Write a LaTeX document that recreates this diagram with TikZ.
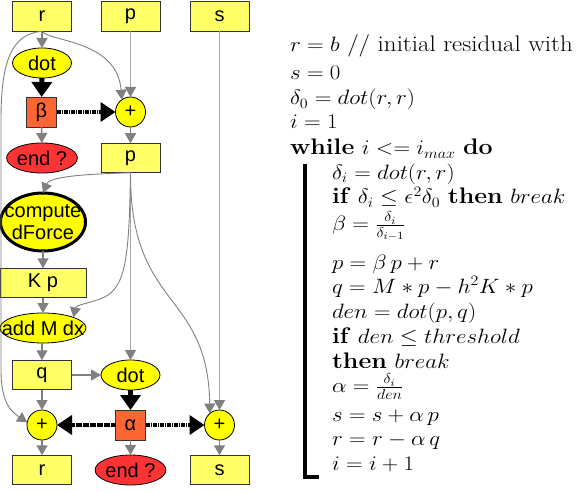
\documentclass[tikz,border=0pt]{standalone}
\usepackage{graphicx}
\usepackage{fontspec}
\newfontfamily\diagfont{Liberation Sans}
\usetikzlibrary{arrows.meta,shapes.geometric}
\definecolor{boxy}{RGB}{255,255,102}
\definecolor{elly}{RGB}{255,255,0}
\definecolor{orng}{RGB}{255,102,51}
\definecolor{redd}{RGB}{255,51,51}
\definecolor{linegray}{RGB}{128,128,128}
\definecolor{longgray}{RGB}{165,165,165}
\newcommand{\algline}[1]{\scalebox{1.11}[1]{#1}}
\begin{document}
\begin{tikzpicture}[x=1pt,y=-1pt,
  every node/.style={inner sep=0pt, outer sep=0pt, font=\diagfont\fontsize{20}{22}\selectfont},
  box/.style={rectangle, draw=black!80, line width=0.8pt, fill=boxy, minimum width=59pt, minimum height=29.5pt},
  ell/.style={ellipse, draw=black, line width=0.8pt, fill=elly, minimum width=59pt, minimum height=30pt},
  endell/.style={ell, fill=redd},
  sq/.style={rectangle, draw=black!80, line width=0.8pt, fill=orng, minimum width=30pt, minimum height=30pt},
  plus/.style={circle, draw=black, line width=0.8pt, fill=elly, minimum size=30pt},
  garrow/.style={draw=linegray, line width=1.5pt, -{Triangle[length=10pt,width=11pt]}},
  gcurve/.style={draw=linegray, line width=0.9pt, -{Triangle[length=10pt,width=11pt]}},
  glong/.style={draw=longgray, line width=1.5pt, -{Triangle[length=10pt,width=11pt,color=linegray]}},
  thickarr/.style={draw=black, line width=5pt, -{Triangle[length=15pt,width=20pt]}},
  hatch/.style={draw=black, line width=4.5pt, dash pattern=on 1.3pt off 0.45pt, -{Triangle[length=15pt,width=19pt]}},
  algo/.style={anchor=base west, font=\fontsize{22.5}{25}\selectfont},
]
\useasboundingbox (0,0) rectangle (581,492);
% top row
\node[box] (rT) at (42,16.5) {r};
\node[box] (pT) at (130.5,16.5) {p};
\node[box] (sT) at (219.5,16.5) {s};
\node[ell] (dot1) at (42,63) {dot};
\node[sq] (beta) at (41.5,112) {β};
\node[plus] (plus1) at (130.5,112) {+};
\node[endell] (end1) at (42,158) {end ?};
\node[box] (pM) at (130.5,158) {p};
\node[ell, line width=3pt, minimum width=85pt, minimum height=58pt,
      label={[align=center]center:compute\\dForce}] (comp) at (43,222) {};
\node[box, minimum width=86pt] (Kp) at (43,283) {K p};
\node[ell, minimum width=86pt, minimum height=30pt, label={center:add M dx}] (addM) at (43,328) {};
\node[box] (q) at (42,375) {q};
\node[ell] (dot2) at (130.5,375) {dot};
\node[plus] (plus2) at (42,425) {+};
\node[sq] (alpha) at (130.5,425) {α};
\node[plus] (plus3) at (219.5,425) {+};
\node[box] (rB) at (42,470) {r};
\node[endell] (end2) at (130.5,470) {end ?};
\node[box] (sB) at (219.5,470) {s};
% connectors
\draw[glong] (pT) -- (plus1);
\draw[glong] (sT) -- (plus3);
\draw[glong] (pM) -- (dot2);
\draw[garrow] (rT) -- (dot1);
\draw[gcurve] (rT.south) .. controls (50,42) and (117,40) .. (plus1.125);
\draw[gcurve] (rT.south) .. controls (12,34) and (1,60) .. (1,120) -- (1,370) .. controls (1,404) and (12,412) .. (plus2.170);
\draw[thickarr] (dot1) -- (beta);
\draw[hatch] (beta) -- (plus1);
\draw[garrow] (beta) -- (end1);
\draw[garrow] (plus1) -- (pM);
\draw[gcurve] (pM.south) .. controls (90,174) and (50,176) .. (comp.north);
\draw[gcurve] (pM.south) .. controls (129,260) and (126,290) .. (100,299) .. controls (86,304) and (76,305) .. (addM.north east);
\draw[gcurve] (pM.south) .. controls (130,310) and (208,290) .. (plus3.130);
\draw[garrow] (comp) -- (Kp);
\draw[garrow] (Kp) -- (addM);
\draw[garrow] (addM.south -| q) -- (q);
\draw[garrow] (q) -- (dot2);
\draw[garrow] (q) -- (plus2);
\draw[thickarr] (dot2) -- (alpha);
\draw[hatch] (alpha) -- (plus2);
\draw[hatch] (alpha) -- (plus3);
\draw[garrow] (plus2) -- (rB);
\draw[garrow] (alpha) -- (end2);
\draw[garrow] (plus3) -- (sB);
% algorithm
\node[algo] (l1) at (290,52) {\algline{$r = b$ // initial residual with}};
\node[algo] (l2) at (290,80) {\algline{$s = 0$}};
\node[algo] (l3) at (290,105) {\algline{$\delta_0 = dot(r,r)$}};
\node[algo] (l4) at (290,129) {\algline{$i = 1$}};
\node[algo] (l5) at (290,155) {\algline{\textbf{while} $i <= i_{max}$ \textbf{do}}};
\node[algo] (l6) at (332,179) {\algline{$\delta_i = dot(r,r)$}};
\node[algo] (l7) at (332,204) {\algline{\textbf{if} $\delta_i \le \epsilon^2\delta_0$ \textbf{then} $break$}};
\node[algo] (l8) at (332,230) {\algline{$\beta = \frac{\delta_i}{\delta_{i-1}}$}};
\node[algo] (l9) at (332,269) {\algline{$p = \beta\, p + r$}};
\node[algo] (l10) at (332,293) {\algline{$q = M*p - h^2K*p$}};
\node[algo] (l11) at (332,318) {\algline{$den = dot(p,q)$}};
\node[algo] (l12) at (332,343) {\algline{\textbf{if} $den \le threshold$}};
\node[algo] (l13) at (332,368) {\algline{\textbf{then} $break$}};
\node[algo] (l14) at (332,392) {\algline{$\alpha = \frac{\delta_i}{den}$}};
\node[algo] (l15) at (332,421) {\algline{$s = s + \alpha\, p$}};
\node[algo] (l16) at (332,445) {\algline{$r = r - \alpha\, q$}};
\node[algo] (l17) at (332,470) {\algline{$i = i + 1$}};
\draw[line width=4.5pt] (305,164) -- (305,477) -- (319,477);
\end{tikzpicture}
\end{document}
